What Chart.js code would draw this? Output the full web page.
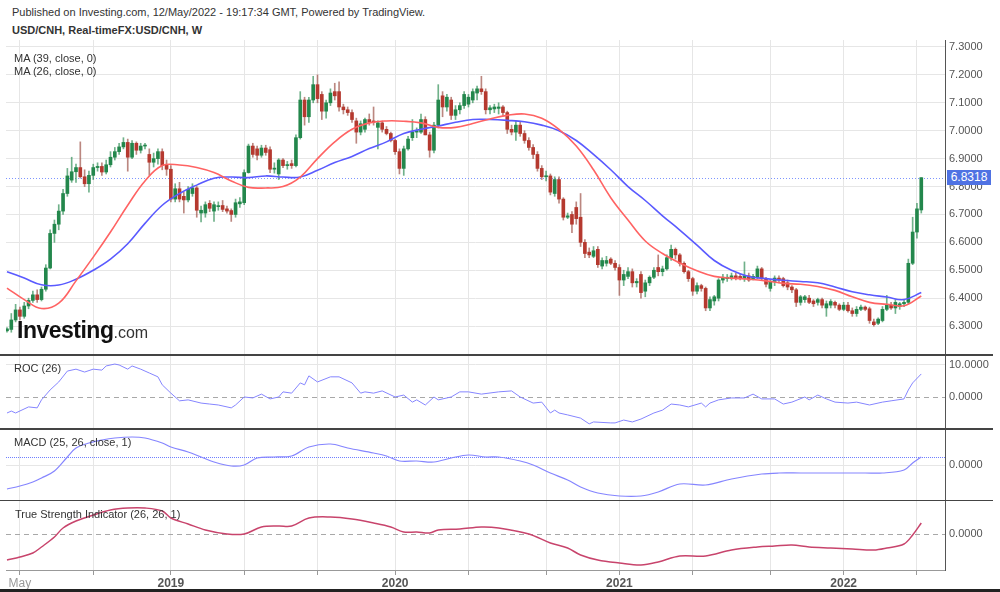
<!DOCTYPE html>
<html>
<head>
<meta charset="utf-8">
<script src="https://cdn.jsdelivr.net/npm/chart.js@4.4.1/dist/chart.umd.min.js"></script>
<style>
  body { margin: 0; width: 1000px; height: 592px; background: #fff; position: relative; overflow: hidden;
         font-family: Arial, "Liberation Sans", sans-serif; }
  .txt { position: absolute; font-size: 11px; color: #333; white-space: nowrap; }
  .panel { position: absolute; left: 0; }
  .sep { position: absolute; left: 0; width: 993px; background: #444; }
  #logo { position: absolute; left: 17px; top: 317px; font-size: 23px; font-weight: bold; color: #111; letter-spacing: -0.5px; }
  #logo span { font-size: 16px; font-weight: normal; color: #333; letter-spacing: 0; }
  #lastPrice { position: absolute; left: 947px; width: 44px; height: 15px; line-height: 15px; background: #4f72e3;
               color: #fff; font-size: 12px; text-align: center; }
</style>
</head>
<body>
<div class="txt" style="left:12px;top:6px">Published on Investing.com, 12/May/2022 - 19:17:34 GMT, Powered by TradingView.</div>
<div class="txt" style="left:12px;top:24px;font-weight:bold">USD/CNH, Real-timeFX:USD/CNH, W</div>

<div class="panel" style="top:40px"><canvas id="mainChart" width="1000" height="314"></canvas></div>
<div class="panel" style="top:356px"><canvas id="rocChart" width="1000" height="72"></canvas></div>
<div class="panel" style="top:430px"><canvas id="macdChart" width="1000" height="70"></canvas></div>
<div class="panel" style="top:501px"><canvas id="tsiChart" width="1000" height="89"></canvas></div>

<div class="sep" style="top:354px;height:2px"></div>
<div class="sep" style="top:428px;height:2px"></div>
<div class="sep" style="top:500px;height:1px"></div>
<div style="position:absolute;left:0;top:589px;width:1000px;height:3px;background:#222"></div>

<div class="txt" style="left:14px;top:52px">MA (39, close, 0)</div>
<div class="txt" style="left:14px;top:65px">MA (26, close, 0)</div>
<div class="txt" style="left:14px;top:362px">ROC (26)</div>
<div class="txt" style="left:14px;top:436px">MACD (25, 26, close, 1)</div>
<div class="txt" style="left:15px;top:508px">True Strength Indicator (26, 26, 1)</div>
<div id="logo">Investing<span>.com</span></div>
<div id="lastPrice"></div>

<script>
// Weekly USD/CNH candles, one per week starting mid-April 2018
const opens = [
  6.283, 6.288, 6.322, 6.358, 6.335, 6.372, 6.392, 6.412, 6.395, 6.432,
  6.508, 6.632, 6.665, 6.712, 6.775, 6.823, 6.853, 6.868, 6.835, 6.810,
  6.840, 6.868, 6.872, 6.852, 6.878, 6.905, 6.925, 6.942, 6.958, 6.905,
  6.955, 6.930, 6.945, 6.915, 6.887, 6.900, 6.925, 6.878, 6.862, 6.755,
  6.792, 6.765, 6.752, 6.775, 6.795, 6.705, 6.705, 6.740, 6.712, 6.728,
  6.732, 6.720, 6.714, 6.700, 6.738, 6.742, 6.850, 6.945, 6.935, 6.912,
  6.938, 6.932, 6.862, 6.845, 6.895, 6.875, 6.882, 6.875, 6.975, 7.110,
  7.050, 7.110, 7.165, 7.130, 7.070, 7.100, 7.140, 7.140, 7.085, 7.075,
  7.065, 7.035, 6.995, 7.005, 7.040, 7.035, 7.012, 7.028, 7.005, 6.990,
  6.965, 6.925, 6.865, 6.935, 6.975, 6.995, 6.995, 7.040, 6.985, 6.930,
  7.020, 7.125, 7.085, 7.110, 7.055, 7.075, 7.090, 7.095, 7.110, 7.135,
  7.150, 7.140, 7.075, 7.078, 7.080, 7.085, 7.065, 7.005, 6.995, 7.020,
  6.990, 6.965, 6.940, 6.915, 6.865, 6.835, 6.838, 6.775, 6.825, 6.755,
  6.690, 6.700, 6.725, 6.690, 6.600, 6.565, 6.550, 6.575, 6.515, 6.525,
  6.540, 6.525, 6.510, 6.465, 6.478, 6.495, 6.455, 6.485, 6.425, 6.455,
  6.475, 6.510, 6.495, 6.505, 6.545, 6.575, 6.555, 6.525, 6.495, 6.470,
  6.425, 6.445, 6.435, 6.365, 6.390, 6.400, 6.465, 6.470, 6.470, 6.480,
  6.478, 6.470, 6.480, 6.470, 6.475, 6.505, 6.470, 6.435, 6.460, 6.472,
  6.470, 6.455, 6.440, 6.430, 6.385, 6.395, 6.400, 6.390, 6.385, 6.395,
  6.365, 6.375, 6.385, 6.375, 6.360, 6.375, 6.355, 6.345, 6.360, 6.368,
  6.362, 6.315, 6.310, 6.320, 6.360, 6.375, 6.365, 6.370, 6.380, 6.385,
  6.525, 6.637, 6.716
];
const highs = [
  6.295, 6.345, 6.378, 6.368, 6.385, 6.400, 6.425, 6.430, 6.440, 6.520,
  6.645, 6.680, 6.735, 6.790, 6.865, 6.905, 6.880, 6.960, 6.860, 6.855,
  6.880, 6.885, 6.885, 6.895, 6.925, 6.940, 6.955, 6.975, 6.970, 6.965,
  6.960, 6.955, 6.955, 6.935, 6.920, 6.935, 6.935, 6.895, 6.875, 6.810,
  6.815, 6.780, 6.800, 6.810, 6.800, 6.730, 6.745, 6.750, 6.745, 6.745,
  6.750, 6.730, 6.720, 6.755, 6.760, 6.860, 6.952, 6.955, 6.945, 6.948,
  6.948, 6.942, 6.885, 6.900, 6.900, 6.890, 6.895, 6.985, 7.140, 7.120,
  7.120, 7.195, 7.200, 7.140, 7.110, 7.150, 7.170, 7.175, 7.095, 7.085,
  7.075, 7.045, 7.035, 7.045, 7.060, 7.085, 7.035, 7.035, 7.015, 6.995,
  6.970, 6.935, 6.945, 6.980, 7.040, 7.010, 7.060, 7.050, 6.995, 7.030,
  7.165, 7.140, 7.130, 7.120, 7.090, 7.100, 7.140, 7.130, 7.150, 7.160,
  7.195, 7.150, 7.090, 7.095, 7.100, 7.090, 7.070, 7.020, 7.035, 7.030,
  7.000, 6.975, 6.950, 6.925, 6.875, 6.855, 6.845, 6.835, 6.835, 6.760,
  6.705, 6.710, 6.745, 6.775, 6.610, 6.580, 6.585, 6.585, 6.545, 6.550,
  6.545, 6.535, 6.520, 6.500, 6.510, 6.505, 6.470, 6.495, 6.465, 6.480,
  6.510, 6.555, 6.515, 6.555, 6.590, 6.580, 6.560, 6.530, 6.500, 6.475,
  6.455, 6.450, 6.440, 6.405, 6.410, 6.470, 6.485, 6.485, 6.490, 6.490,
  6.485, 6.530, 6.490, 6.485, 6.515, 6.510, 6.475, 6.465, 6.480, 6.480,
  6.475, 6.465, 6.445, 6.435, 6.410, 6.410, 6.410, 6.395, 6.400, 6.400,
  6.390, 6.395, 6.390, 6.380, 6.385, 6.385, 6.365, 6.370, 6.375, 6.372,
  6.368, 6.325, 6.330, 6.370, 6.410, 6.385, 6.395, 6.385, 6.395, 6.540,
  6.690, 6.740, 6.832
];
const lows = [
  6.278, 6.278, 6.315, 6.322, 6.328, 6.362, 6.385, 6.385, 6.390, 6.425,
  6.505, 6.600, 6.645, 6.700, 6.765, 6.815, 6.815, 6.830, 6.800, 6.780,
  6.825, 6.855, 6.840, 6.845, 6.870, 6.895, 6.915, 6.935, 6.855, 6.900,
  6.915, 6.920, 6.935, 6.840, 6.870, 6.880, 6.860, 6.840, 6.745, 6.745,
  6.745, 6.705, 6.745, 6.765, 6.690, 6.673, 6.690, 6.710, 6.675, 6.715,
  6.710, 6.705, 6.675, 6.690, 6.725, 6.735, 6.848, 6.905, 6.895, 6.905,
  6.912, 6.850, 6.848, 6.825, 6.868, 6.862, 6.865, 6.870, 6.970, 7.020,
  7.030, 7.100, 7.100, 7.040, 7.045, 7.090, 7.110, 7.070, 7.060, 7.055,
  7.030, 6.955, 6.985, 6.995, 7.020, 7.020, 6.935, 6.995, 6.985, 6.960,
  6.915, 6.845, 6.840, 6.930, 6.965, 6.975, 6.990, 6.985, 6.905, 6.920,
  7.010, 7.050, 7.070, 7.040, 7.040, 7.060, 7.080, 7.085, 7.100, 7.110,
  7.130, 7.060, 7.060, 7.065, 7.060, 7.055, 6.990, 6.985, 6.965, 6.980,
  6.955, 6.930, 6.900, 6.855, 6.825, 6.820, 6.770, 6.765, 6.740, 6.680,
  6.685, 6.635, 6.665, 6.585, 6.545, 6.545, 6.545, 6.510, 6.505, 6.515,
  6.520, 6.500, 6.410, 6.445, 6.470, 6.440, 6.440, 6.400, 6.405, 6.445,
  6.470, 6.480, 6.480, 6.500, 6.535, 6.540, 6.515, 6.490, 6.460, 6.410,
  6.415, 6.425, 6.355, 6.355, 6.375, 6.390, 6.455, 6.460, 6.465, 6.465,
  6.465, 6.460, 6.460, 6.465, 6.470, 6.465, 6.440, 6.425, 6.445, 6.455,
  6.440, 6.430, 6.420, 6.370, 6.375, 6.385, 6.380, 6.370, 6.375, 6.365,
  6.335, 6.365, 6.365, 6.355, 6.355, 6.350, 6.335, 6.335, 6.355, 6.355,
  6.310, 6.300, 6.305, 6.315, 6.355, 6.360, 6.345, 6.360, 6.370, 6.380,
  6.520, 6.615, 6.705
];
const closes = [
  6.290, 6.322, 6.358, 6.335, 6.372, 6.392, 6.412, 6.395, 6.432, 6.508,
  6.632, 6.665, 6.712, 6.775, 6.838, 6.853, 6.868, 6.835, 6.810, 6.840,
  6.868, 6.872, 6.852, 6.878, 6.905, 6.925, 6.942, 6.958, 6.905, 6.955,
  6.930, 6.945, 6.948, 6.887, 6.900, 6.925, 6.875, 6.862, 6.755, 6.792,
  6.755, 6.752, 6.790, 6.795, 6.715, 6.715, 6.735, 6.722, 6.735, 6.730,
  6.718, 6.712, 6.700, 6.742, 6.745, 6.850, 6.945, 6.915, 6.912, 6.938,
  6.922, 6.862, 6.866, 6.895, 6.875, 6.878, 6.875, 6.975, 7.110, 7.050,
  7.110, 7.165, 7.115, 7.070, 7.100, 7.135, 7.125, 7.085, 7.075, 7.065,
  7.040, 6.995, 7.025, 7.040, 7.030, 7.030, 7.028, 7.005, 6.990, 6.965,
  6.925, 6.865, 6.935, 6.970, 6.995, 7.000, 7.040, 6.985, 6.930, 7.020,
  7.110, 7.085, 7.120, 7.055, 7.075, 7.090, 7.130, 7.120, 7.140, 7.150,
  7.140, 7.075, 7.082, 7.085, 7.085, 7.065, 7.005, 6.995, 7.020, 6.990,
  6.965, 6.940, 6.915, 6.865, 6.835, 6.838, 6.780, 6.825, 6.755, 6.690,
  6.695, 6.665, 6.685, 6.600, 6.560, 6.555, 6.570, 6.520, 6.535, 6.535,
  6.525, 6.510, 6.465, 6.485, 6.495, 6.455, 6.460, 6.420, 6.455, 6.475,
  6.500, 6.495, 6.505, 6.545, 6.575, 6.555, 6.525, 6.495, 6.470, 6.425,
  6.445, 6.435, 6.365, 6.395, 6.405, 6.465, 6.475, 6.475, 6.480, 6.470,
  6.472, 6.480, 6.465, 6.478, 6.505, 6.470, 6.450, 6.460, 6.472, 6.465,
  6.445, 6.440, 6.430, 6.385, 6.405, 6.405, 6.385, 6.380, 6.395, 6.375,
  6.380, 6.388, 6.375, 6.360, 6.375, 6.355, 6.345, 6.360, 6.368, 6.360,
  6.320, 6.305, 6.325, 6.360, 6.375, 6.365, 6.385, 6.380, 6.385, 6.525,
  6.637, 6.720, 6.8318
];

const maWeeks = [0, 4, 8, 12, 16, 20, 24, 28, 32, 36, 40, 44, 48, 52, 56, 60, 64, 68, 72, 76, 80, 84, 88, 92, 96, 100,
  104, 108, 112, 116, 120, 124, 128, 132, 136, 140, 144, 148, 152, 156, 160, 164, 168, 172, 176, 180, 184, 188, 192,
  196, 200, 204, 208, 212];
const ma39 = [6.495, 6.472, 6.448, 6.447, 6.468, 6.500, 6.540, 6.595, 6.668, 6.733, 6.775, 6.805, 6.830, 6.834, 6.832,
  6.838, 6.834, 6.834, 6.858, 6.886, 6.908, 6.936, 6.960, 6.990, 7.005, 7.017, 7.030, 7.040, 7.040, 7.037, 7.032,
  7.020, 7.000, 6.965, 6.915, 6.860, 6.800, 6.750, 6.695, 6.644, 6.590, 6.535, 6.500, 6.478, 6.470, 6.464, 6.460,
  6.455, 6.440, 6.423, 6.412, 6.404, 6.395, 6.420];
const ma26 = [6.436, 6.395, 6.363, 6.382, 6.462, 6.547, 6.637, 6.733, 6.820, 6.875, 6.877, 6.868, 6.850, 6.820, 6.797,
  6.795, 6.800, 6.834, 6.900, 6.960, 7.005, 7.028, 7.035, 7.034, 7.028, 7.012, 7.012, 7.026, 7.042, 7.055, 7.060,
  7.045, 7.005, 6.945, 6.860, 6.760, 6.680, 6.605, 6.560, 6.526, 6.498, 6.478, 6.472, 6.468, 6.462, 6.453, 6.450,
  6.442, 6.428, 6.405, 6.385, 6.378, 6.373, 6.408];

// ROC (26)
const rocWeeks = [0, 1, 2, 5, 7, 8, 10, 12, 14, 16, 18, 20, 22, 23, 25, 26, 28, 29, 31, 33, 35, 36, 38, 40, 42, 45, 47,
  49, 52, 53, 55, 57, 59, 61, 63, 64, 66, 68, 69, 70, 72, 75, 77, 80, 82, 83, 85, 87, 90, 92, 94, 95, 97, 99, 100,
  103, 105, 107, 110, 114, 117, 119, 122, 124, 126, 127, 128, 130, 133, 135, 136, 140, 141, 143, 145, 147, 150, 152,
  154, 156, 158, 161, 162, 163, 165, 168, 171, 173, 175, 178, 180, 182, 185, 186, 188, 190, 192, 195, 197, 200, 203,
  205, 208, 209, 210, 212];
const rocValues = [-5.0, -4.4, -5.0, -3.1, -3.4, -0.9, 2.2, 4.7, 8.1, 8.7, 7.8, 8.7, 8.4, 9.7, 10.3, 10.0, 8.7, 9.7,
  8.7, 7.5, 6.3, 3.8, 1.2, -1.2, -0.9, -1.9, -2.2, -2.5, -3.4, -2.5, 0.0, -0.3, 0.9, -0.6, 0.0, 1.6, 1.2, 4.4, 3.8,
  6.6, 4.7, 6.3, 6.3, 4.4, 1.2, 1.6, 1.2, 1.9, 0.0, 0.6, -1.6, -0.9, -2.5, 0.0, -0.9, 0.0, 1.6, 1.6, 0.9, 1.6, 1.9,
  0.0, -1.9, -1.6, -5.0, -4.1, -5.0, -5.6, -6.6, -8.4, -7.8, -8.1, -8.1, -7.2, -7.8, -6.9, -5.0, -4.1, -2.2, -2.5,
  -3.1, -1.9, -3.1, -1.9, -0.9, -0.3, -0.3, 0.9, -0.6, -0.6, -2.2, -1.6, 0.0, -0.9, 0.6, -0.6, -1.6, -1.9, -1.6,
  -2.5, -1.6, -1.2, -0.6, 2.2, 4.4, 7.2];

// MACD (25, 26, close, 1)
const macdWeeks = [0, 3, 6, 8, 11, 14, 16, 19, 22, 25, 29, 32, 36, 38, 42, 45, 48, 52, 55, 58, 62, 66, 70, 75, 79, 85,
  88, 91, 95, 99, 103, 107, 111, 114, 119, 122, 126, 130, 133, 137, 142, 147, 151, 156, 162, 168, 175, 179, 184, 191,
  199, 203, 208, 210, 212];
const macdValues = [-0.0024, -0.0021, -0.0017, -0.0013, -0.0006, 0.0008, 0.0017, 0.0022, 0.0025, 0.0027, 0.0028,
  0.0027, 0.0022, 0.0018, 0.0013, 0.0008, 0.0003, -0.0001, 0.0000, 0.0007, 0.0008, 0.0009, 0.0018, 0.0021, 0.0017,
  0.0012, 0.0009, 0.0004, 0.0004, 0.0003, 0.0007, 0.0010, 0.0008, 0.0008, 0.0004, 0.0000, -0.0008, -0.0015,
  -0.0022, -0.0028, -0.0031, -0.0031, -0.0027, -0.0019, -0.0020, -0.0014, -0.0009, -0.0008, -0.0008, -0.0008,
  -0.0008, -0.0008, -0.0005, 0.0002, 0.0008];

// True Strength Indicator (26, 26, 1)
const tsiWeeks = [0, 3, 6, 8, 11, 13, 16, 20, 24, 28, 32, 36, 38, 42, 46, 51, 55, 59, 63, 66, 70, 75, 80, 85, 89, 92,
  95, 98, 100, 105, 110, 114, 121, 126, 130, 133, 137, 142, 147, 151, 156, 162, 168, 174, 178, 182, 186, 191, 196,
  201, 204, 208, 210, 212];
const tsiValues = [-26, -23, -19, -13, -3, 6, 13, 19, 24, 26, 26, 23, 16, 10, 4, 0, 0, 7, 8, 8, 16, 17, 15, 11, 7, 2,
  2, 1, 4, 5, 7, 6, 0, -9, -14, -21, -26, -29, -31, -28, -22, -22, -16, -13, -12, -11, -13, -14, -15, -16, -14, -10,
  -1, 11];

// Axis ticks
const gridWeeks = [3, 20, 38, 55, 72, 90, 107, 125, 142, 159, 177, 194, 211];
const gridLabels = ['May', '', '2019', '', '', '2020', '', '', '2021', '', '', '2022', ''];
const priceTicks = [6.3, 6.4, 6.5, 6.6, 6.7, 6.8, 6.9, 7.0, 7.1, 7.2, 7.3];

const FONT = 'Arial, "Liberation Sans", sans-serif';
const UP = '#23874c';
const DOWN = '#b5392f';
const UP_WICK = 'rgba(35,135,76,0.65)';
const DOWN_WICK = 'rgba(150,70,60,0.65)';
const GRID = '#e6e6e6';
const X_MIN = -0.23;
const X_MAX = 217.5;

function isUp(i) {
  return closes[i] >= opens[i];
}

// x axis shared by all panels; only the bottom one shows labels
function makeXScale(showLabels) {
  return {
    type: 'linear',
    min: X_MIN,
    max: X_MAX,
    offset: false,
    afterBuildTicks: s => { s.ticks = gridWeeks.map(v => ({ value: v })); },
    afterFit: s => {
      s.height = showLabels ? 20 : 0;
      s.paddingLeft = 0;
      s.paddingRight = 0;
    },
    grid: { color: GRID, offset: false, drawTicks: showLabels, tickLength: 5, tickColor: '#999' },
    border: { display: showLabels, color: '#999' },
    ticks: {
      display: showLabels,
      autoSkip: false,
      maxRotation: 0,
      padding: 1,
      callback: (v, i) => gridLabels[i],
      color: c => (c.tick && c.tick.label === 'May') ? '#999' : '#555',
      font: c => ({ family: FONT, size: 12, weight: (c.tick && c.tick.label === 'May') ? 'normal' : 'bold' })
    }
  };
}

function makeYScale(min, max, ticks, gridColor) {
  return {
    position: 'right',
    min: min,
    max: max,
    afterBuildTicks: s => { s.ticks = ticks.map(v => ({ value: v })); },
    afterFit: s => {
      s.width = 55;
      s.paddingTop = 0;
      s.paddingBottom = 0;
    },
    grid: { color: gridColor, drawTicks: false },
    border: { color: '#555' },
    ticks: { color: '#555', padding: 4, font: { family: FONT, size: 11 }, callback: v => v.toFixed(4) }
  };
}

// Horizontal reference lines (zero lines, last value lines)
function refLines(lines) {
  return {
    id: 'refLines',
    beforeDatasetsDraw(chart) {
      const ctx = chart.ctx;
      const area = chart.chartArea;
      const y = chart.scales.y;
      lines.forEach(l => {
        const py = Math.round(y.getPixelForValue(l.value)) + 0.5;
        ctx.save();
        ctx.strokeStyle = l.color;
        ctx.lineWidth = 1;
        ctx.setLineDash(l.dash);
        ctx.beginPath();
        ctx.moveTo(area.left, py);
        ctx.lineTo(area.right, py);
        ctx.stroke();
        ctx.restore();
      });
    }
  };
}

function toPoints(xs, ys) {
  return xs.map((x, k) => ({ x: x, y: ys[k] }));
}

const baseOptions = {
  responsive: false,
  animation: false,
  devicePixelRatio: 1,
  layout: { padding: { left: 6, right: 0, top: 0, bottom: 0 } },
  plugins: { legend: { display: false }, tooltip: { enabled: false } }
};

const lastClose = closes[closes.length - 1];

// Main price panel
const mainChart = new Chart(document.getElementById('mainChart'), {
  type: 'bar',
  data: {
    datasets: [
      {
        type: 'bar',
        data: closes.map((c, i) => ({ x: i, y: [lows[i], highs[i]] })),
        backgroundColor: c => isUp(c.dataIndex) ? UP_WICK : DOWN_WICK,
        barThickness: 1,
        grouped: false,
        borderWidth: 0,
        order: 3
      },
      {
        type: 'bar',
        data: closes.map((c, i) => ({ x: i, y: [Math.min(opens[i], c), Math.max(opens[i], c)] })),
        backgroundColor: c => isUp(c.dataIndex) ? UP : DOWN,
        barThickness: 3,
        grouped: false,
        borderWidth: 0,
        minBarLength: 1,
        order: 2
      },
      {
        type: 'line',
        data: toPoints(maWeeks, ma39),
        borderColor: '#5a5aff',
        borderWidth: 1.6,
        pointRadius: 0,
        tension: 0.4,
        order: 1
      },
      {
        type: 'line',
        data: toPoints(maWeeks, ma26),
        borderColor: '#ff6363',
        borderWidth: 1.6,
        pointRadius: 0,
        tension: 0.4,
        order: 0
      }
    ]
  },
  options: Object.assign({}, baseOptions, {
    scales: { x: makeXScale(false), y: makeYScale(6.2, 7.325, priceTicks, GRID) }
  }),
  plugins: [refLines([{ value: lastClose, color: '#7d95ff', dash: [1, 2] }])]
});

// ROC panel
new Chart(document.getElementById('rocChart'), {
  type: 'line',
  data: {
    datasets: [{
      data: toPoints(rocWeeks, rocValues),
      borderColor: '#8585ff',
      borderWidth: 1,
      pointRadius: 0,
      tension: 0
    }]
  },
  options: Object.assign({}, baseOptions, {
    scales: {
      x: makeXScale(false),
      y: makeYScale(-9.69, 12.81, [0, 10], c => c.tick.value === 0 ? 'rgba(0,0,0,0)' : GRID)
    }
  }),
  plugins: [refLines([{ value: 0, color: '#a8a8a8', dash: [5, 4] }])]
});

// MACD panel
new Chart(document.getElementById('macdChart'), {
  type: 'line',
  data: {
    datasets: [{
      data: toPoints(macdWeeks, macdValues),
      borderColor: '#8585ff',
      borderWidth: 1.2,
      pointRadius: 0,
      tension: 0.35
    }]
  },
  options: Object.assign({}, baseOptions, {
    scales: { x: makeXScale(false), y: makeYScale(-0.0035, 0.0035, [0], GRID) }
  }),
  plugins: [refLines([{ value: macdValues[macdValues.length - 1], color: '#6f7fff', dash: [1, 1] }])]
});

// TSI panel
new Chart(document.getElementById('tsiChart'), {
  type: 'line',
  data: {
    datasets: [{
      data: toPoints(tsiWeeks, tsiValues),
      borderColor: '#c8446c',
      borderWidth: 1.5,
      pointRadius: 0,
      tension: 0.35
    }]
  },
  options: Object.assign({}, baseOptions, {
    scales: {
      x: makeXScale(true),
      y: makeYScale(-36, 33, [0], 'rgba(0,0,0,0)')
    }
  }),
  plugins: [refLines([{ value: 0, color: '#a8a8a8', dash: [5, 4] }])]
});

// Last price tag on the right axis
const tag = document.getElementById('lastPrice');
tag.textContent = lastClose.toFixed(4);
tag.style.top = (40 + mainChart.scales.y.getPixelForValue(lastClose) - 8) + 'px';
</script>
</body>
</html>
